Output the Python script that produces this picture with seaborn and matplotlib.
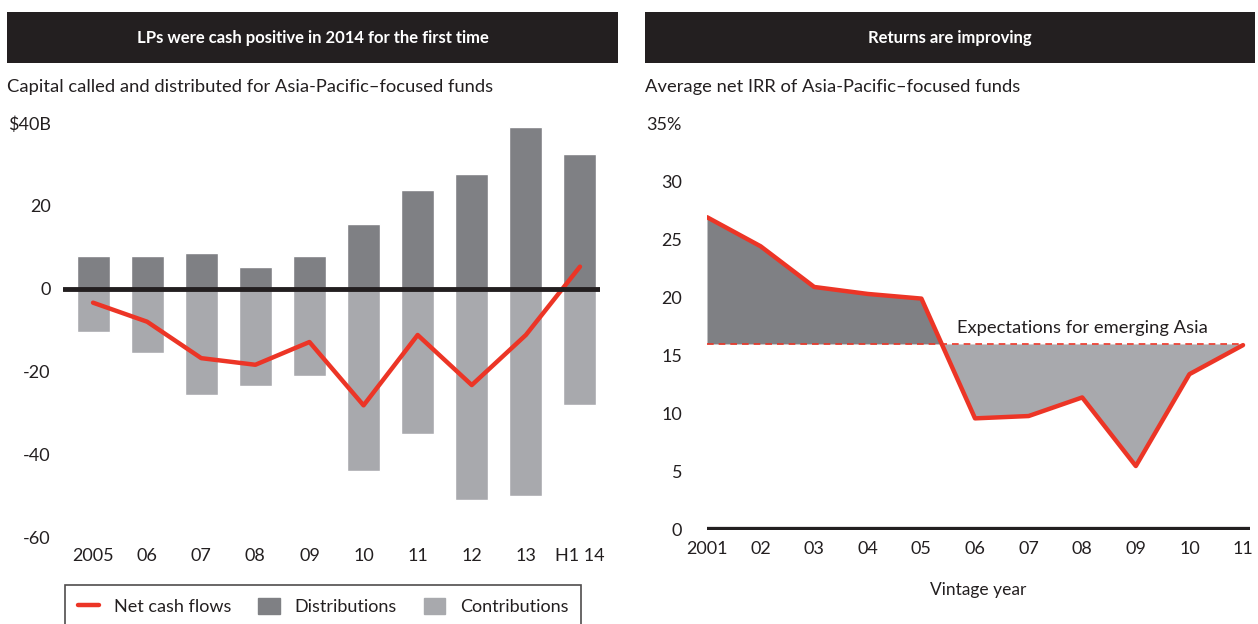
import numpy as np
import seaborn as sns
import matplotlib.pyplot as plt
from matplotlib.lines import Line2D
from matplotlib.patches import Patch

# left chart data ($B)
periods = ["2005", "06", "07", "08", "09", "10", "11", "12", "13", "H1 14"]
distributions = [7.8, 7.8, 8.7, 5.1, 7.8, 15.5, 23.8, 27.7, 39.0, 32.5]
contributions = [-10.5, -15.5, -25.7, -23.5, -21.0, -44.0, -35.0, -51.0, -50.2, -28.0]
net_cash = [-3.4, -8.0, -16.8, -18.4, -12.9, -28.2, -11.2, -23.3, -11.2, 5.3]
left_yticks = [-60, -40, -20, 0, 20, 40]
left_ylabels = ["-60", "-40", "-20", "0", "20", "$40B"]

# right chart data (%)
vintages = ["2001", "02", "03", "04", "05", "06", "07", "08", "09", "10", "11"]
irr = [26.9, 24.4, 20.9, 20.3, 19.9, 9.6, 9.8, 11.4, 5.5, 13.4, 15.9]
expectation = 16.0
right_yticks = [0, 5, 10, 15, 20, 25, 30, 35]
right_ylabels = ["0", "5", "10", "15", "20", "25", "30", "35%"]

DARK = "#7f8084"
LIGHT = "#a8a9ad"
RED = "#ec3526"
HEAD = "#231f20"
TXT = "#231f20"

sns.set_theme(style="white")
plt.rcParams["font.family"] = ["Lato", "DejaVu Sans"]

W, H = 1258, 624
fig = plt.figure(figsize=(W / 100, H / 100), dpi=100)


def box(x0, y0, x1, y1):
    return [x0 / W, 1 - y1 / H, (x1 - x0) / W, (y1 - y0) / H]


# header bars
for (x0, x1), title in [((7, 618), "LPs were cash positive in 2014 for the first time"),
                        ((645, 1255), "Returns are improving")]:
    hax = fig.add_axes(box(x0, 12, x1, 63))
    hax.set_facecolor(HEAD)
    hax.set_xticks([])
    hax.set_yticks([])
    for s in hax.spines.values():
        s.set_visible(False)
    hax.text(0.5, 0.5, title, color="white", fontsize=12, fontweight="bold",
             ha="center", va="center", transform=hax.transAxes)

fig.text(7 / W, 1 - 87 / H, "Capital called and distributed for Asia-Pacific\u2013focused funds",
         fontsize=13.2, color=TXT, va="center", ha="left")
fig.text(645 / W, 1 - 87 / H, "Average net IRR of Asia-Pacific\u2013focused funds",
         fontsize=13.2, color=TXT, va="center", ha="left")

# ---- left chart ----
ax1 = fig.add_axes(box(63, 123, 600, 537))
sns.barplot(x=periods, y=distributions, color=DARK, width=0.61, saturation=1, ax=ax1)
sns.barplot(x=periods, y=contributions, color=LIGHT, width=0.61, saturation=1, ax=ax1)
sns.lineplot(x=np.arange(len(periods)), y=net_cash, color=RED, linewidth=3.2, ax=ax1)
ax1.axhline(0, color=HEAD, linewidth=3.5, zorder=5)
ax1.set_xlim(-0.555, 9.37)
ax1.set_ylim(-60, 40)
ax1.set_yticks(left_yticks, left_ylabels)
ax1.set_xticks(range(len(periods)), periods)
for s in ax1.spines.values():
    s.set_visible(False)
ax1.tick_params(axis="y", length=0, pad=9, labelsize=13, labelcolor=TXT)
ax1.tick_params(axis="x", length=0, pad=8, labelsize=13, labelcolor=TXT)

handles = [Line2D([], [], color=RED, linewidth=3.2),
           Patch(color=DARK), Patch(color=LIGHT)]
leg = fig.legend(handles, ["Net cash flows", "Distributions", "Contributions"],
                 loc="upper center", bbox_to_anchor=(323 / W, 1 - 576 / H), ncol=3,
                 frameon=True, fancybox=False, fontsize=13, handlelength=1.2,
                 handleheight=1.0, columnspacing=1.5, borderpad=0.7, handletextpad=0.8)
leg.get_frame().set_edgecolor(HEAD)
leg.get_frame().set_linewidth(1.2)
for t in leg.get_texts():
    t.set_color(TXT)

# ---- right chart ----
ax2 = fig.add_axes(box(707, 123, 1250, 530))
xs = np.arange(len(vintages))
irr_arr = np.array(irr)
ax2.fill_between(xs, irr_arr, expectation, where=irr_arr >= expectation,
                 interpolate=True, color=DARK, linewidth=0)
ax2.fill_between(xs, irr_arr, expectation, where=irr_arr <= expectation,
                 interpolate=True, color=LIGHT, linewidth=0)
ax2.plot([xs[0], xs[-1]], [expectation, expectation], color=RED, linewidth=1.2,
         linestyle=(0, (4, 3)))
sns.lineplot(x=xs, y=irr, color=RED, linewidth=3.2, ax=ax2)
ax2.axhline(0, color=HEAD, linewidth=4.5, zorder=5)
ax2.text(4.66, 17.4, "Expectations for emerging Asia", fontsize=13.2, color=TXT,
         ha="left", va="center")
ax2.set_xlim(0, 10.13)
ax2.set_ylim(0, 35)
ax2.set_yticks(right_yticks, right_ylabels)
ax2.set_xticks(xs, vintages)
ax2.set_xlabel("Vintage year", fontsize=12.5, color=TXT, labelpad=18)
for s in ax2.spines.values():
    s.set_visible(False)
ax2.tick_params(axis="y", length=0, pad=18, labelsize=13, labelcolor=TXT)
ax2.tick_params(axis="x", length=0, pad=8, labelsize=13, labelcolor=TXT)

fig.savefig("out.png", dpi=100)
